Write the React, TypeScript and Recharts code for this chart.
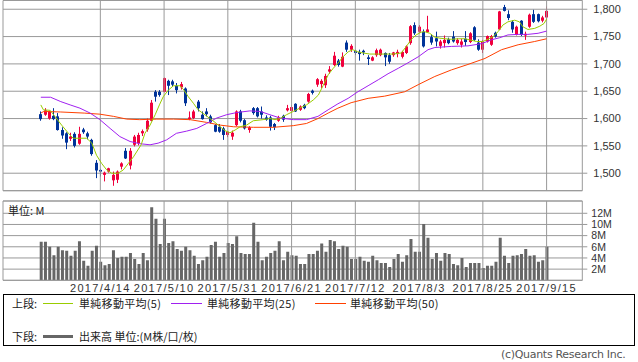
import React from 'react';
import { ComposedChart, Bar, Line, XAxis, YAxis, CartesianGrid, ReferenceLine } from 'recharts';

// ---- data ----
const dateTicks = [14, 29, 44, 59, 74, 89, 104, 119];
const dateLabels = ['2017/4/14', '2017/5/10', '2017/5/31', '2017/6/21', '2017/7/12', '2017/8/3', '2017/8/25', '2017/9/15'];
const priceTicks = [1500, 1550, 1600, 1650, 1700, 1750, 1800];
const volumeTicks = [2, 4, 6, 8, 10, 12];

// open, high, low, close
const ohlc: number[][] = [
  [1608, 1613, 1596, 1599], [1607, 1619, 1605, 1615], [1600, 1614, 1598, 1613], [1605, 1619, 1597, 1599],
  [1604, 1610, 1578, 1579], [1579, 1584, 1563, 1569], [1573, 1575, 1544, 1556], [1563, 1574, 1559, 1567],
  [1572, 1575, 1547, 1550], [1554, 1585, 1552, 1572], [1580, 1583, 1572, 1575], [1573, 1576, 1562, 1567],
  [1561, 1563, 1532, 1535], [1519, 1524, 1491, 1505], [1506, 1508, 1494, 1503], [1497, 1503, 1485, 1501],
  [1503, 1510, 1501, 1509], [1487, 1503, 1477, 1497], [1488, 1505, 1482, 1503], [1512, 1520, 1507, 1518],
  [1541, 1546, 1526, 1527], [1514, 1546, 1507, 1541], [1552, 1570, 1549, 1567], [1555, 1574, 1551, 1570],
  [1573, 1580, 1568, 1577], [1580, 1600, 1576, 1596], [1596, 1634, 1595, 1629], [1649, 1652, 1631, 1640],
  [1649, 1652, 1640, 1643], [1649, 1675, 1648, 1674], [1669, 1671, 1643, 1660], [1668, 1671, 1658, 1662],
  [1660, 1665, 1646, 1652], [1657, 1667, 1653, 1663], [1655, 1657, 1623, 1628], [1599, 1613, 1597, 1602],
  [1601, 1616, 1599, 1613], [1631, 1634, 1613, 1619], [1607, 1613, 1598, 1599], [1613, 1619, 1604, 1608],
  [1604, 1607, 1591, 1593], [1588, 1590, 1575, 1576], [1585, 1590, 1574, 1576], [1582, 1585, 1561, 1570],
  [1570, 1577, 1566, 1576], [1567, 1578, 1561, 1574], [1588, 1615, 1586, 1613], [1613, 1616, 1593, 1596],
  [1597, 1599, 1580, 1582], [1579, 1586, 1574, 1584], [1619, 1621, 1607, 1610], [1619, 1621, 1602, 1604],
  [1613, 1622, 1600, 1607], [1602, 1606, 1596, 1598], [1602, 1605, 1578, 1585], [1590, 1592, 1579, 1584],
  [1596, 1605, 1594, 1602], [1605, 1607, 1594, 1598], [1615, 1625, 1613, 1619], [1614, 1625, 1612, 1621],
  [1627, 1628, 1612, 1613], [1616, 1624, 1614, 1622], [1625, 1627, 1617, 1619], [1631, 1647, 1629, 1645],
  [1651, 1653, 1644, 1647], [1662, 1674, 1658, 1672], [1663, 1672, 1656, 1669], [1661, 1682, 1656, 1678],
  [1686, 1696, 1682, 1690], [1698, 1722, 1696, 1715], [1706, 1709, 1695, 1698], [1695, 1721, 1694, 1713],
  [1739, 1743, 1722, 1726], [1726, 1736, 1722, 1733], [1724, 1726, 1716, 1720], [1722, 1726, 1706, 1718],
  [1724, 1726, 1716, 1721], [1712, 1716, 1698, 1709], [1706, 1714, 1705, 1712], [1716, 1728, 1713, 1725],
  [1716, 1728, 1714, 1726], [1720, 1721, 1696, 1712], [1716, 1720, 1700, 1704], [1716, 1722, 1713, 1721],
  [1718, 1726, 1712, 1722], [1713, 1724, 1710, 1722], [1720, 1734, 1718, 1732], [1738, 1771, 1735, 1769],
  [1771, 1776, 1753, 1756], [1759, 1771, 1757, 1768], [1759, 1763, 1730, 1732], [1758, 1788, 1757, 1763],
  [1749, 1754, 1735, 1739], [1747, 1759, 1732, 1741], [1733, 1744, 1728, 1741], [1738, 1752, 1730, 1744],
  [1745, 1748, 1736, 1738], [1750, 1760, 1739, 1741], [1738, 1747, 1735, 1744], [1735, 1746, 1730, 1741],
  [1746, 1760, 1733, 1740], [1740, 1758, 1738, 1756], [1767, 1769, 1742, 1744], [1739, 1745, 1724, 1726],
  [1726, 1744, 1720, 1741], [1741, 1752, 1739, 1751], [1735, 1753, 1733, 1751], [1757, 1759, 1748, 1750],
  [1763, 1797, 1762, 1796], [1804, 1808, 1796, 1797], [1791, 1798, 1780, 1784], [1777, 1780, 1757, 1763],
  [1753, 1770, 1752, 1768], [1779, 1780, 1751, 1753], [1752, 1759, 1744, 1755], [1768, 1792, 1766, 1790],
  [1791, 1799, 1775, 1777], [1791, 1792, 1776, 1778], [1779, 1788, 1776, 1785], [1785, 1805, 1779, 1797],
];

// volume in millions
const volumes: number[] = [
  6.9, 6.9, 6.0, 4.5, 6.0, 5.4, 5.3, 4.4, 5.3, 7.0,
  3.5, 2.6, 5.3, 6.2, 3.3, 2.7, 2.9, 5.4, 4.0, 4.2,
  4.2, 4.9, 3.8, 2.9, 4.9, 3.6, 13.1, 11.0, 6.5, 11.0,
  6.7, 7.0, 5.6, 5.3, 6.0, 5.4, 4.4, 2.9, 3.6, 4.2,
  6.3, 6.9, 4.2, 4.9, 6.7, 6.5, 7.9, 4.9, 4.7, 4.7,
  10.3, 6.9, 3.6, 4.2, 4.9, 5.3, 7.0, 3.6, 5.1, 4.5,
  4.4, 2.9, 2.9, 4.7, 4.7, 5.3, 6.6, 5.1, 7.2, 7.0,
  5.6, 6.2, 6.0, 3.8, 3.8, 4.2, 3.5, 3.3, 4.4, 3.6,
  3.1, 3.1, 2.4, 3.8, 4.7, 3.3, 4.5, 7.4, 5.1, 5.1,
  10.1, 7.6, 3.8, 4.9, 3.5, 4.9, 4.7, 2.9, 2.7, 4.0,
  2.4, 3.1, 3.1, 3.1, 2.2, 2.6, 2.6, 3.3, 7.6, 4.4,
  3.1, 4.4, 4.5, 4.7, 5.6, 4.4, 4.5, 3.3, 3.6, 6.0,
];

// moving averages: [day index, value]
const ma5Points: number[][] = [
  [0, 1625], [0.6, 1616], [2.2, 1615], [3.3, 1604], [4.9, 1588], [6.5, 1573], [7.6, 1564], [10.8, 1564],
  [12, 1555], [13.1, 1533], [14.3, 1518], [15.5, 1506], [16.7, 1500], [18.2, 1500], [19.4, 1506], [20.6, 1518],
  [21.8, 1530], [23.6, 1552], [24.5, 1573], [25.7, 1588], [26.9, 1607], [27.9, 1625], [28.8, 1640], [30, 1652],
  [31.2, 1660], [32.7, 1660], [33.5, 1654], [34.7, 1640], [35.9, 1628], [37, 1616], [38.6, 1607], [39.8, 1600],
  [41, 1593], [42.2, 1585], [43.3, 1578], [44.5, 1574], [45.7, 1579], [46.9, 1585], [48.4, 1588], [50, 1596],
  [52.3, 1598], [53.9, 1600], [55.1, 1598], [56.3, 1600], [57.8, 1607], [59.4, 1613], [60.9, 1619], [62.5, 1625],
  [64.1, 1634], [65.3, 1643], [66.4, 1660], [67.6, 1680], [68.8, 1692], [69.9, 1701], [71.1, 1713], [72.3, 1722],
  [73.4, 1726], [74.6, 1722], [75.8, 1720], [77.4, 1718], [79, 1718], [80.9, 1718], [82.9, 1718], [84.8, 1720],
  [86, 1732], [87.2, 1745], [88.3, 1753], [89.5, 1758], [90.3, 1759], [91.5, 1756], [92.7, 1749], [93.9, 1747],
  [95.1, 1746], [96.6, 1745], [98.2, 1746], [99.8, 1746], [100.9, 1744], [102.5, 1741], [104, 1741], [105.2, 1745],
  [106.4, 1750], [107.6, 1759], [108.7, 1771], [109.9, 1777], [111.5, 1780], [112.6, 1777], [113.4, 1768], [114.6, 1763],
  [116.2, 1765], [117.4, 1769], [118.4, 1774], [119, 1782],
];
const ma25Points: number[][] = [
  [0, 1639], [2.3, 1639], [4.7, 1631], [6.9, 1625], [9.2, 1619], [11.6, 1610], [13.9, 1598], [16.3, 1582],
  [18.6, 1567], [21, 1558], [23.3, 1554], [25.7, 1552], [27.6, 1555], [29.6, 1561], [31.9, 1573], [34.3, 1577],
  [36.7, 1582], [39, 1591], [41.4, 1601], [43.7, 1607], [46.1, 1611], [49.2, 1614], [51.6, 1613], [53.9, 1607],
  [56.3, 1601], [59.4, 1598], [62.5, 1598], [65.2, 1604], [67.6, 1616], [69.9, 1627], [72.3, 1637], [74.6, 1649],
  [77, 1660], [79.4, 1671], [81.7, 1682], [84.1, 1692], [86.4, 1702], [88.8, 1713], [91.1, 1726], [92.7, 1730],
  [96.6, 1732], [100.5, 1733], [103.7, 1737], [106, 1744], [108, 1748], [109.9, 1753], [112.3, 1754], [114.6, 1754],
  [117, 1756], [119, 1760],
];
const ma50Points: number[][] = [
  [0, 1610], [0.7, 1613], [4.7, 1612], [10.2, 1610], [13.9, 1608], [17.1, 1604], [20.2, 1599], [23.3, 1598],
  [27.3, 1599], [31.2, 1599], [35.1, 1598], [39, 1593], [42.2, 1588], [45.3, 1585], [50, 1584], [54.7, 1584],
  [59.4, 1587], [62.5, 1591], [65.2, 1600], [67.6, 1610], [69.9, 1619], [73, 1629], [77, 1637], [80.9, 1641],
  [85.6, 1649], [88.8, 1662], [92.7, 1677], [96.6, 1689], [100.5, 1699], [104.5, 1710], [108.4, 1726], [112.3, 1735],
  [116.2, 1741], [119, 1746],
];

// ---- derived tables ----
const candles = ohlc.map((r, i) => ({ i, open: r[0], high: r[1], low: r[2], close: r[3], vol: volumes[i] }));
const toLine = (pts: number[][]) => pts.map(p => ({ i: p[0], v: p[1] }));
const ma5 = toLine(ma5Points);
const ma25 = toLine(ma25Points);
const ma50 = toLine(ma50Points);

const X_MIN = -8.9;
const X_MAX = 127.4;
const P_MIN = 1468;
const P_MAX = 1816;
const V_MAX = 14.2;

const RED = '#f0003c';
const BLUE = '#003399';
const GRID = '#999999';
const TEXT = '#333333';

const Candle = (props: any) => {
  const { x, y, width, height, payload } = props;
  if (!payload || y == null || height == null) return null;
  const { open, close, high, low } = payload;
  const top = Math.min(y, y + height);
  const h = Math.abs(height);
  const range = high - low || 1;
  const py = (v: number) => top + ((high - v) / range) * h;
  const cx = Math.round(x + width / 2 - 0.5);
  const color = close >= open ? RED : BLUE;
  const yO = py(open);
  const yC = py(close);
  const bTop = Math.min(yO, yC);
  const bH = Math.max(1, Math.abs(yO - yC));
  return (
    <g>
      <line x1={cx + 0.5} x2={cx + 0.5} y1={top} y2={top + h} stroke={color} strokeWidth={1} />
      <rect x={cx - 1} y={bTop} width={3} height={bH} fill={color} />
    </g>
  );
};

const tickFont = { fontSize: 11, fill: TEXT, fontFamily: '"Liberation Sans", Arial, sans-serif' };
const cjk = '"Noto Sans CJK JP", "Noto Sans", sans-serif';

const PriceChart = () => (
  <ComposedChart width={638} height={200} data={candles} margin={{ top: 0.5, right: 0, bottom: 9.3, left: 3 }}>
    <CartesianGrid vertical={false} stroke={GRID} />
    <XAxis dataKey="i" type="number" domain={[X_MIN, X_MAX]} hide allowDataOverflow />
    <YAxis
      orientation="right"
      domain={[P_MIN, P_MAX]}
      ticks={priceTicks}
      interval={0}
      width={55.7}
      tickSize={5}
      tickMargin={6}
      tick={tickFont}
      tickLine={{ stroke: GRID }}
      axisLine={{ stroke: GRID }}
      tickFormatter={(v: number) => v.toLocaleString('en-US')}
      allowDataOverflow
    />
    <ReferenceLine y={P_MAX} stroke={GRID} />
    <ReferenceLine y={P_MIN} stroke={GRID} />
    <ReferenceLine x={X_MIN} stroke={GRID} />
    {dateTicks.map(t => (
      <ReferenceLine key={t} x={t} stroke={GRID} />
    ))}
    <Bar dataKey={(d: any) => [d.low, d.high]} barSize={4} shape={<Candle />} isAnimationActive={false} />
    <Line data={ma50} dataKey="v" stroke="#ff4000" strokeWidth={1} dot={false} type="linear" isAnimationActive={false} />
    <Line data={ma25} dataKey="v" stroke="#a020f0" strokeWidth={1} dot={false} type="linear" isAnimationActive={false} />
    <Line data={ma5} dataKey="v" stroke="#99cc00" strokeWidth={1} dot={false} type="linear" isAnimationActive={false} />
  </ComposedChart>
);

const VolumeChart = () => (
  <ComposedChart width={638} height={100} data={candles} margin={{ top: 6, right: 0, bottom: 0, left: 3 }}>
    <CartesianGrid vertical={false} stroke={GRID} />
    <XAxis
      dataKey="i"
      type="number"
      domain={[X_MIN, X_MAX]}
      ticks={dateTicks}
      interval={0}
      height={14.7}
      tickSize={0}
      tickMargin={4}
      tickLine={false}
      axisLine={{ stroke: GRID }}
      tick={{ ...tickFont, letterSpacing: 1.3 }}
      tickFormatter={(v: number) => dateLabels[dateTicks.indexOf(v)] ?? ''}
      allowDataOverflow
    />
    <YAxis
      orientation="right"
      domain={[0, V_MAX]}
      ticks={volumeTicks}
      interval={0}
      width={55.7}
      tickSize={5}
      tickMargin={4}
      tick={{ ...tickFont, fontSize: 10.5 }}
      tickLine={{ stroke: GRID }}
      axisLine={{ stroke: GRID }}
      tickFormatter={(v: number) => `${v}M`}
      allowDataOverflow
    />
    <ReferenceLine y={V_MAX} stroke={GRID} />
    <ReferenceLine x={X_MIN} stroke={GRID} />
    {dateTicks.map(t => (
      <ReferenceLine key={t} x={t} stroke={GRID} />
    ))}
    <Bar dataKey="vol" barSize={3} fill="#666666" isAnimationActive={false} />
  </ComposedChart>
);

const legendText: React.CSSProperties = {
  position: 'absolute',
  fontSize: 11,
  lineHeight: '12px',
  color: '#222',
  fontFamily: cjk,
  whiteSpace: 'nowrap',
};

const Swatch = ({ left, top, width, height, color }: any) => (
  <div style={{ position: 'absolute', left, top, width, height, background: color }} />
);

export default function App() {
  return (
    <div style={{ position: 'absolute', left: 0, top: 0, width: 638, height: 362, background: '#fff', overflow: 'hidden' }}>
      <div style={{ position: 'absolute', left: 0, top: 0 }}>
        <PriceChart />
      </div>
      <div style={{ position: 'absolute', left: 0, top: 195 }}>
        <VolumeChart />
      </div>
      <div style={{ ...legendText, left: 8, top: 204 }}>単位: M</div>

      <div
        style={{
          position: 'absolute',
          left: 3,
          top: 294,
          width: 632,
          height: 52,
          border: '1px solid #000',
          boxSizing: 'border-box',
        }}
      />
      <div style={{ ...legendText, left: 12, top: 297 }}>上段:</div>
      <Swatch left={43} top={303} width={30} height={1} color="#99cc00" />
      <div style={{ ...legendText, left: 79, top: 297, letterSpacing: 0.3 }}>単純移動平均(5)</div>
      <Swatch left={171} top={303} width={31} height={1} color="#a020f0" />
      <div style={{ ...legendText, left: 207, top: 297, letterSpacing: 0.3 }}>単純移動平均(25)</div>
      <Swatch left={315} top={303} width={31} height={1} color="#ff4000" />
      <div style={{ ...legendText, left: 350, top: 297, letterSpacing: 0.3 }}>単純移動平均(50)</div>

      <div style={{ ...legendText, left: 12, top: 330 }}>下段:</div>
      <Swatch left={43} top={335} width={30} height={3} color="#666666" />
      <div style={{ ...legendText, left: 79, top: 330 }}>出来高 単位:(M株/口/枚)</div>

      <div
        style={{
          position: 'absolute',
          left: 501,
          top: 349,
          fontSize: 11,
          lineHeight: '12px',
          color: '#555',
          fontFamily: '"DejaVu Sans", sans-serif',
          whiteSpace: 'nowrap',
          letterSpacing: -0.3,
        }}
      >
        (c)Quants Research Inc.
      </div>
    </div>
  );
}
